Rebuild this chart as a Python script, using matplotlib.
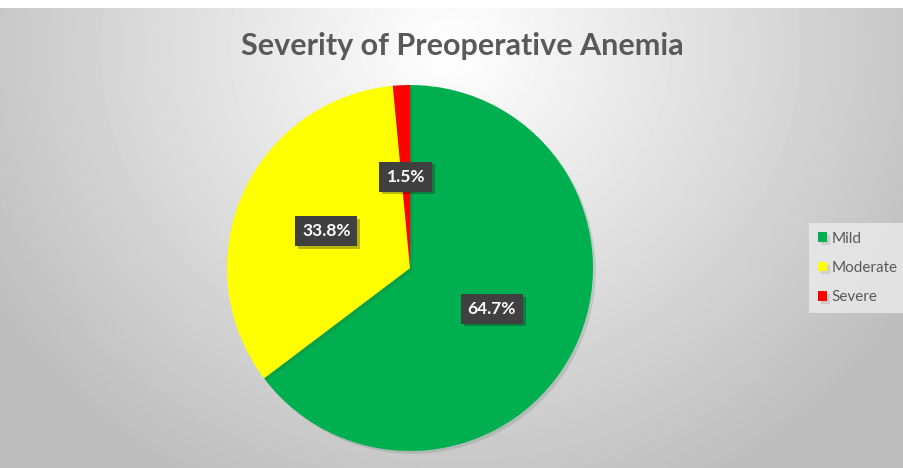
import numpy as np
import matplotlib.pyplot as plt
import matplotlib.patheffects as pe

labels = ["Mild", "Moderate", "Severe"]
values = [64.7, 33.8, 1.5]
colors = ["#00B050", "#FFFF00", "#FF0000"]

plt.rcParams['font.family'] = ['Lato', 'DejaVu Sans']

fig = plt.figure(figsize=(9.04, 4.68), dpi=100)
fig.patch.set_facecolor("white")

# radial grey background
bg = fig.add_axes([0, 0, 1, 1 - 8 / 468])
yy, xx = np.mgrid[0:460, 0:904]
r = np.sqrt(((xx - 450) / 520.0) ** 2 + ((yy - 40) / 480.0) ** 2)
shade = np.clip(1.0 - 0.25 * r, 0.74, 1.0)
bg.imshow(shade, cmap="gray", vmin=0, vmax=1, aspect="auto", interpolation="bilinear")
bg.axis("off")

ax = fig.add_axes([(410 - 183) / 904, (468 - 451) / 468, 366 / 904, 366 / 468])
wedges, texts, autotexts = ax.pie(values, colors=colors, startangle=90, counterclock=False,
                                  autopct="%.1f%%", pctdistance=0.5, radius=1.0,
                                  wedgeprops=dict(linewidth=0))
for w in wedges:
    w.set_path_effects([pe.SimplePatchShadow(offset=(2, -2), alpha=0.12), pe.Normal()])
for t in autotexts:
    t.set_color("white")
    t.set_fontsize(12.5)
    t.set_fontweight("bold")
    t.set_bbox(dict(boxstyle="square,pad=0.4", facecolor="#404040", edgecolor="none"))
    t.get_bbox_patch().set_path_effects([pe.SimplePatchShadow(offset=(2, -2), alpha=0.3), pe.Normal()])
ax.set_xlim(-1, 1)
ax.set_ylim(-1, 1)
ax.set_aspect("equal")

fig.text(0.511, 0.902, "Severity of Preoperative Anemia", ha="center", va="center",
         fontsize=22, fontweight="bold", color="#595959")

leg = fig.legend(wedges, labels, loc="center left", bbox_to_anchor=(809 / 904, 1 - 268 / 468),
                 frameon=True, fontsize=11, handlelength=0.6, handleheight=0.6,
                 handletextpad=0.3, labelspacing=1.0, borderpad=0.6, borderaxespad=0,
                 fancybox=False)
leg.get_frame().set_facecolor("#ebebeb")
leg.get_frame().set_edgecolor("none")
for t in leg.get_texts():
    t.set_color("#595959")

fig.savefig("out.png", dpi=100, facecolor=fig.get_facecolor())
